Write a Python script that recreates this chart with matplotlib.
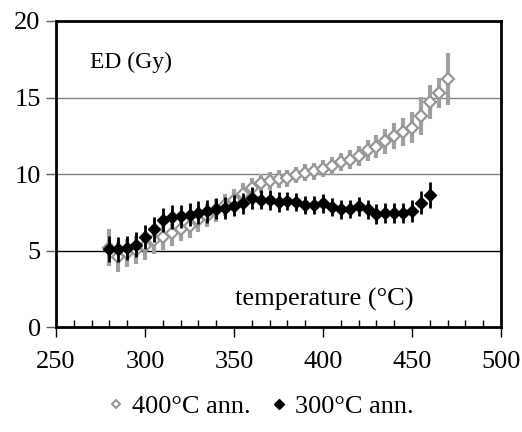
import numpy as np
import matplotlib
matplotlib.use("Agg")
import matplotlib.pyplot as plt
from matplotlib.ticker import MultipleLocator
from matplotlib.lines import Line2D

plt.rcParams['font.family'] = ['Liberation Serif', 'DejaVu Serif']

# ED (Gy) versus temperature, two annealing temperatures
temp_400 = [280, 285, 290, 295, 300, 305, 310, 315, 320, 325, 330, 335, 340,
            345, 350, 355, 360, 365, 370, 375, 380, 385, 390, 395, 400, 405,
            410, 415, 420, 425, 430, 435, 440, 445, 450, 455, 460, 465, 470]
ed_400 = [5.2, 4.6, 4.85, 5.05, 5.3, 5.7, 5.9, 6.15, 6.45, 6.65, 7.0, 7.3, 7.65,
          8.0, 8.35, 8.7, 9.1, 9.4, 9.55, 9.7, 9.75, 9.95, 10.1, 10.2, 10.35, 10.55,
          10.8, 10.95, 11.2, 11.55, 11.8, 12.15, 12.5, 12.75, 13.05, 13.8, 14.7, 15.3, 16.2]
err_400 = [1.2, 1.0, 0.9, 0.9, 0.9, 0.9, 0.85, 0.85, 0.8, 0.8, 0.8, 0.75, 0.75,
           0.7, 0.7, 0.7, 0.65, 0.6, 0.6, 0.6, 0.55, 0.55, 0.55, 0.55, 0.55, 0.6,
           0.6, 0.6, 0.65, 0.7, 0.75, 0.8, 0.85, 0.9, 1.0, 1.25, 1.1, 1.0, 1.7]

temp_300 = [280, 285, 290, 295, 300, 305, 310, 315, 320, 325, 330, 335, 340,
            345, 350, 355, 360, 365, 370, 375, 380, 385, 390, 395, 400, 405,
            410, 415, 420, 425, 430, 435, 440, 445, 450, 455, 460]
ed_300 = [5.15, 5.1, 5.2, 5.4, 5.9, 6.4, 7.0, 7.2, 7.25, 7.35, 7.5, 7.6, 7.75,
          7.8, 7.95, 8.1, 8.45, 8.35, 8.3, 8.2, 8.25, 8.2, 8.0, 8.0, 8.1, 7.85,
          7.7, 7.75, 7.9, 7.7, 7.4, 7.5, 7.5, 7.5, 7.6, 8.15, 8.65]
err_300 = [0.85, 0.8, 0.8, 0.8, 0.8, 0.8, 0.8, 0.8, 0.75, 0.75, 0.75, 0.75, 0.7,
           0.7, 0.7, 0.7, 0.7, 0.65, 0.65, 0.65, 0.6, 0.6, 0.6, 0.6, 0.6, 0.6,
           0.6, 0.6, 0.6, 0.6, 0.65, 0.65, 0.65, 0.65, 0.7, 0.75, 0.85]

fig = plt.figure(figsize=(5.22, 4.32), dpi=100)
ax = fig.add_axes([0.1073, 0.2419, 0.8525, 0.7095])

# horizontal grid lines
for y in [10, 15]:
    ax.axhline(y, color='#808080', lw=1.0, zorder=0)
ax.axhline(5, color='black', lw=1.0, zorder=0)

ax.errorbar(temp_400, ed_400, yerr=err_400, fmt='D', ms=5.8, mfc='white',
            mec='#969696', mew=1.6, ecolor='#a0a0a0', elinewidth=3.0,
            capsize=0, zorder=2)
ax.errorbar(temp_300, ed_300, yerr=err_300, fmt='D', ms=6.3, mfc='black',
            mec='black', mew=1.0, ecolor='black', elinewidth=2.0,
            capsize=0, zorder=3)

ax.set_xlim(250, 500)
ax.set_ylim(0, 20)
ax.xaxis.set_major_locator(MultipleLocator(50))
ax.xaxis.set_minor_locator(MultipleLocator(10))
ax.yaxis.set_major_locator(MultipleLocator(5))
ax.tick_params(axis='x', which='major', direction='out', length=7, width=1.0,
               labelsize=19, pad=10)
ax.tick_params(axis='x', which='minor', direction='in', length=5, width=1.0)
ax.tick_params(axis='y', which='major', direction='out', length=7, width=1.0,
               color='#606060', labelsize=19, pad=4)
for s in ax.spines.values():
    s.set_linewidth(2.0)
    s.set_color('black')

ax.text(269, 17.3, 'ED (Gy)', fontsize=17, ha='left', va='center')
ax.text(350.5, 1.8, 'temperature (°C)', fontsize=19, ha='left', va='center')

handles = [Line2D([], [], ls='none', marker='D', ms=4.5, mfc='white', mec='#969696', mew=1.5),
           Line2D([], [], ls='none', marker='D', ms=5, mfc='black', mec='black')]
fig.legend(handles, ['400°C ann.', '300°C ann.'], loc='center',
           bbox_to_anchor=(0.5, 0.06), ncol=2, frameon=False, fontsize=19,
           handlelength=0.6, handletextpad=0.3, columnspacing=0.8)

fig.savefig('out.png', dpi=100)
